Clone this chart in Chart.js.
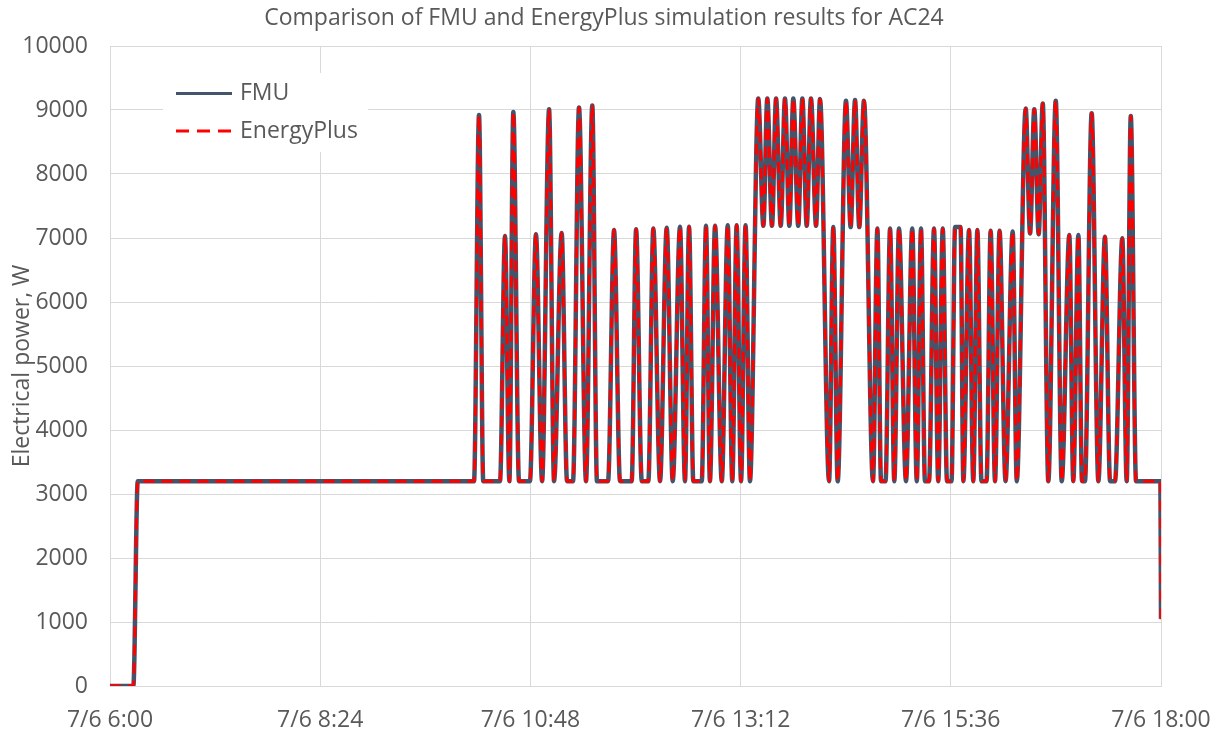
<!DOCTYPE html>
<html>
<head>
<meta charset="utf-8">
<script src="https://cdn.jsdelivr.net/npm/chart.js@4.4.1/dist/chart.umd.min.js"></script>
<style>
html,body{margin:0;padding:0;background:#fff;}
#wrap{width:1223px;height:734px;position:relative;}
</style>
</head>
<body>
<div id="wrap"><canvas id="c" width="1223" height="734"></canvas></div>
<script>
// minutes after 7/6 6:00
const timeMin = [0,16,19,249.4,252.8,255.7,267.2,270.6,273.6,276.3,280.2,287.7,291.8,296.0,300.8,304.2,309.4,313.1,317.2,321.3,326.1,330.4,333.6,341.2,345.3,349.4,357.4,360.4,364.3,368.8,372.2,376.8,381.4,385.5,390.5,393.9,396.7,399.6,405.4,408.3,411.0,414.5,419.1,423.2,426.3,429.3,432.3,435.4,438.4,444.1,447.6,450.3,453.5,456.3,459.5,462.4,465.4,468.1,471.5,474.3,477.3,480.2,483.7,486.4,492.6,495.5,498.5,504.2,507.4,510.4,513.3,516.5,522.7,525.7,528.2,531.3,534.4,537.3,540.5,545.3,549.6,552.7,555.6,558.3,561.1,564.5,567.4,570.5,573.4,576.5,578.9,582.7,584.6,588.5,591.4,594.2,597.0,600.5,603.3,606.3,609.4,613.5,618.4,621.2,627.3,630.3,633.2,636.2,639.0,642.8,647.9,652.0,657.2,659.9,663.4,665.9,667.9,672.5,677.1,681.6,685.1,688.5,693.5,696.5,699.3,702.9,719.6,720];
const fmuW = [0,0,3200,3200,8920,3200,3200,7030,3200,8970,3200,3200,7060,3200,9010,3200,7080,3200,3200,9040,3200,9070,3200,3200,7125,3200,3200,7135,3200,3200,7150,3200,7160,3200,7175,3200,7175,3200,3200,7190,3200,7190,3200,7200,3200,7200,3200,7200,3200,9180,7190,9180,7190,9180,7190,9180,7190,9180,7190,9180,7190,9180,7190,9170,3200,7170,3200,9145,7170,9155,7170,9145,3200,7150,3200,3200,7150,3200,7150,3200,7150,3200,7150,3200,3200,7150,3200,7150,3200,3200,7170,7170,3200,7125,3200,7125,3200,3200,7115,3200,7115,3200,7100,3200,9025,7070,9010,7060,9100,3200,9145,3200,7045,3200,7045,3200,3200,8950,3200,7020,3200,3200,6995,3200,8905,3200,3200,1050];
const energyPlusW = [0,0,3200,3200,8920,3200,3200,7030,3200,8970,3200,3200,7060,3200,9010,3200,7080,3200,3200,9040,3200,9070,3200,3200,7125,3200,3200,7135,3200,3200,7150,3200,7160,3200,7175,3200,7175,3200,3200,7190,3200,7190,3200,7200,3200,7200,3200,7200,3200,9180,7190,9180,7190,9180,7190,9180,7190,9180,7190,9180,7190,9180,7190,9170,3200,7170,3200,9145,7170,9155,7170,9145,3200,7150,3200,3200,7150,3200,7150,3200,7150,3200,7150,3200,3200,7150,3200,7150,3200,3200,7170,7170,3200,7125,3200,7125,3200,3200,7115,3200,7115,3200,7100,3200,9025,7070,9010,7060,9100,3200,9145,3200,7045,3200,7045,3200,3200,8950,3200,7020,3200,3200,6995,3200,8905,3200,3200,1000];
const xTickLabels = ['7/6 6:00','7/6 8:24','7/6 10:48','7/6 13:12','7/6 15:36','7/6 18:00'];
const seriesNames = ['FMU','EnergyPlus'];

const FONT = "'Open Sans', 'Noto Sans', sans-serif";
const TXT = '#595959';
const GRID = '#d9d9d9';

function pts(vals){ return timeMin.map((t,i)=>({x:t,y:vals[i]})); }

const legendPlugin = {
  id:'innerLegend',
  afterDatasetsDraw(chart){
    const ctx = chart.ctx, a = chart.chartArea;
    const bx = a.left + 53, by = a.top + 27;
    ctx.save();
    ctx.fillStyle = '#fff';
    ctx.fillRect(bx, by, 205, 79);
    const rows = [by + 20.5, by + 58];
    chart.data.datasets.forEach((ds, i) => {
      const y = rows[i];
      ctx.beginPath();
      ctx.strokeStyle = ds.borderColor;
      ctx.lineWidth = 3;
      ctx.setLineDash(i === 1 ? [13, 8] : []);
      ctx.moveTo(bx + 13, y);
      ctx.lineTo(bx + 69, y);
      ctx.stroke();
      ctx.setLineDash([]);
      ctx.fillStyle = TXT;
      ctx.font = "23px " + FONT;
      ctx.textBaseline = 'middle';
      ctx.textAlign = 'left';
      ctx.fillText(ds.label, bx + 77, y);
    });
    ctx.restore();
  }
};

new Chart(document.getElementById('c'), {
  type:'line',
  data:{
    datasets:[
      {label:seriesNames[0], data:pts(fmuW), order:1, borderColor:'#44546a', borderWidth:4.5, pointRadius:0, cubicInterpolationMode:'monotone', fill:false},
      {label:seriesNames[1], data:pts(energyPlusW), order:0, borderColor:'#ff0000', borderWidth:3, borderDash:[11,7], pointRadius:0, cubicInterpolationMode:'monotone', fill:false}
    ]
  },
  options:{
    responsive:false,
    animation:false,
    events:[],
    layout:{padding:{left:0,right:15,top:0,bottom:0}},
    plugins:{
      legend:{display:false},
      tooltip:{enabled:false},
      title:{display:true, text:'Comparison of FMU and EnergyPlus simulation results for AC24', color:TXT, font:{family:FONT,size:23,weight:'normal'}, padding:{top:5,bottom:13.4}}
    },
    scales:{
      x:{
        type:'linear', min:0, max:720,
        afterFit(s){ s.height = 48; s.paddingLeft = 0; s.paddingRight = 62; },
        afterBuildTicks(s){ s.ticks = [0,144,288,432,576,720].map(v=>({value:v})); },
        ticks:{ callback:(v,i)=>xTickLabels[i], color:TXT, font:{family:FONT,size:23}, padding:21, maxRotation:0, autoSkip:false },
        grid:{ color:GRID, lineWidth:1, drawTicks:false },
        border:{ color:GRID }
      },
      y:{
        min:0, max:10000,
        afterFit(s){ s.width = 110; s.paddingTop = 0; s.paddingBottom = 0; },
        ticks:{ stepSize:1000, color:TXT, font:{family:FONT,size:23}, padding:22, callback:v=>String(v) },
        grid:{ color:GRID, lineWidth:1, drawTicks:false },
        border:{ color:GRID },
        title:{ display:true, text:'Electrical power, W', color:TXT, font:{family:FONT,size:23}, padding:{top:9,bottom:0} }
      }
    }
  },
  plugins:[legendPlugin]
});
</script>
</body>
</html>
